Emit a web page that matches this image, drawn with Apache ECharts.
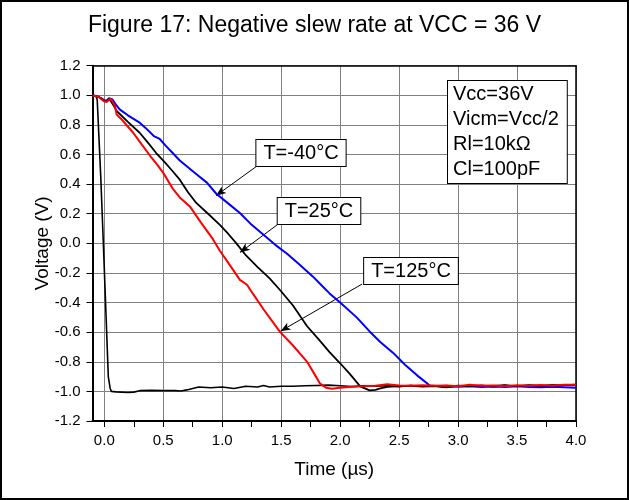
<!DOCTYPE html>
<html>
<head>
<meta charset="utf-8">
<script src="https://cdn.jsdelivr.net/npm/echarts@6/dist/echarts.min.js"></script>
<style>
html,body{margin:0;padding:0;background:#fff;}
#chart{width:629px;height:500px;}
</style>
</head>
<body>
<div id="chart"></div>
<script>
// ---- data ----
const titleText = 'Figure 17: Negative slew rate at VCC = 36 V';
const xLabelValues = [0, 0.5, 1.0, 1.5, 2.0, 2.5, 3.0, 3.5, 4.0];
const xTickValues = [0,0.25,0.5,0.75,1.0,1.25,1.5,1.75,2.0,2.25,2.5,2.75,3.0,3.25,3.5,3.75,4.0];

// T = -40 °C (blue)
const tempM40 = [[-0.10,1.000],[-0.05,0.990],[-0.02,0.978],[0.00,0.965],[0.02,0.965],[0.04,0.980],[0.055,0.984],[0.07,0.972],[0.10,0.935],[0.13,0.905],[0.20,0.865],[0.30,0.815],[0.35,0.780],[0.42,0.725],[0.47,0.705],[0.52,0.660],[0.58,0.610],[0.64,0.560],[0.73,0.500],[0.80,0.455],[0.87,0.410],[0.95,0.335],[1.05,0.270],[1.15,0.205],[1.25,0.125],[1.35,0.058],[1.45,-0.010],[1.55,-0.070],[1.65,-0.140],[1.77,-0.225],[1.85,-0.290],[1.91,-0.338],[2.00,-0.400],[2.14,-0.500],[2.25,-0.595],[2.34,-0.666],[2.45,-0.740],[2.55,-0.820],[2.65,-0.890],[2.76,-0.960],[2.85,-0.965],[2.9,-0.962],[3.0,-0.968],[3.1,-0.966],[3.2,-0.970],[3.3,-0.967],[3.4,-0.970],[3.5,-0.965],[3.6,-0.970],[3.7,-0.972],[3.8,-0.968],[3.9,-0.972],[4.0,-0.975]];

// T = 25 °C (black)
const temp25 = [[-0.10,1.000],[-0.05,0.990],[-0.02,0.975],[0.00,0.960],[0.02,0.962],[0.045,0.975],[0.06,0.970],[0.08,0.930],[0.105,0.894],[0.20,0.820],[0.30,0.747],[0.37,0.680],[0.44,0.610],[0.51,0.550],[0.58,0.487],[0.64,0.430],[0.71,0.345],[0.78,0.273],[0.88,0.200],[0.98,0.125],[1.05,0.065],[1.12,0.000],[1.20,-0.080],[1.30,-0.160],[1.40,-0.235],[1.49,-0.315],[1.60,-0.420],[1.72,-0.560],[1.82,-0.650],[1.91,-0.735],[2.00,-0.810],[2.08,-0.880],[2.17,-0.966],[2.25,-0.993],[2.30,-0.990],[2.34,-0.980],[2.40,-0.970],[2.5,-0.965],[2.6,-0.962],[2.7,-0.968],[2.8,-0.965],[2.9,-0.972],[3.0,-0.962],[3.1,-0.965],[3.2,-0.960],[3.3,-0.968],[3.4,-0.960],[3.5,-0.965],[3.6,-0.958],[3.7,-0.963],[3.8,-0.960],[3.9,-0.958],[4.0,-0.955]];

// T = 125 °C (red)
const temp125 = [[-0.10,0.998],[-0.05,0.990],[-0.036,0.984],[0.00,0.958],[0.02,0.955],[0.054,0.977],[0.07,0.965],[0.09,0.930],[0.105,0.870],[0.15,0.835],[0.245,0.747],[0.32,0.665],[0.39,0.590],[0.45,0.530],[0.50,0.476],[0.58,0.370],[0.64,0.310],[0.73,0.245],[0.82,0.140],[0.92,0.030],[0.98,-0.050],[1.05,-0.130],[1.15,-0.247],[1.21,-0.280],[1.26,-0.340],[1.35,-0.445],[1.40,-0.500],[1.49,-0.598],[1.60,-0.690],[1.72,-0.800],[1.78,-0.880],[1.83,-0.948],[1.88,-0.975],[1.93,-0.982],[2.00,-0.975],[2.1,-0.968],[2.2,-0.965],[2.3,-0.962],[2.4,-0.952],[2.5,-0.960],[2.6,-0.962],[2.7,-0.958],[2.8,-0.962],[2.9,-0.960],[3.0,-0.965],[3.1,-0.955],[3.2,-0.962],[3.3,-0.960],[3.4,-0.965],[3.5,-0.958],[3.6,-0.962],[3.7,-0.956],[3.8,-0.962],[3.9,-0.955],[4.0,-0.955]];

// fast input-like step (black, thin)
const stepTrace = [[-0.10,1.000],[-0.07,0.995],[-0.06,0.970],[-0.03,0.450],[-0.008,0.000],[0.034,-0.900],[0.05,-0.980],[0.06,-1.000],[0.10,-1.003],[0.20,-1.008],[0.25,-1.005],[0.30,-0.995],[0.40,-0.993],[0.50,-0.995],[0.60,-0.995],[0.65,-0.997],[0.70,-0.990],[0.75,-0.980],[0.80,-0.970],[0.90,-0.975],[1.00,-0.970],[1.10,-0.980],[1.20,-0.965],[1.30,-0.970],[1.35,-0.960],[1.40,-0.970],[1.50,-0.965],[1.60,-0.965],[1.70,-0.962],[1.80,-0.960],[1.90,-0.958],[2.00,-0.962],[2.10,-0.968],[2.20,-0.962],[2.3,-0.965],[2.4,-0.962],[2.5,-0.968],[2.6,-0.960],[2.7,-0.965],[2.8,-0.962],[2.9,-0.970],[3.0,-0.965],[3.1,-0.960],[3.2,-0.965],[3.3,-0.962],[3.4,-0.958],[3.5,-0.965],[3.6,-0.960],[3.7,-0.962],[3.8,-0.958],[3.9,-0.960],[4.0,-0.958]];

// annotations: label text, box centre, arrow start, arrow tip (data coords)
const annoLabels = ['T=-40°C', 'T=25°C', 'T=125°C'];
const annoCenters = [[1.670, 0.607], [1.824, 0.216], [2.597, -0.184]];
const annoStarts = [[1.286, 0.517], [1.466, 0.125], [2.186, -0.275]];
const annoTips = [[0.947, 0.322], [1.150, -0.062], [1.495, -0.593]];
const infoLines = ['Vcc=36V', 'Vicm=Vcc/2', 'Rl=10kΩ', 'Cl=100pF'];
const infoAnchor = [2.915, 0.750];

const FONT = '"Liberation Sans", Arial, Helvetica, sans-serif';
const chart = echarts.init(document.getElementById('chart'), null, {renderer: 'canvas'});

function arrow(i) {
  return {
    silent: true,
    symbol: ['none', 'arrow'],
    symbolSize: [6, 10],
    lineStyle: {color: '#000', width: 1, type: 'solid'},
    label: {show: false},
    emphasis: {disabled: true},
    animation: false,
    data: [[{coord: annoStarts[i]}, {coord: annoTips[i]}]]
  };
}
function curve(name, data, color, width, mark) {
  const s = {
    name: name, type: 'line', data: data, showSymbol: false, symbol: 'none',
    lineStyle: {color: color, width: width}, itemStyle: {color: color},
    z: 10, animation: false, silent: true
  };
  if (mark !== undefined) s.markLine = arrow(mark);
  return s;
}

const boxData = annoLabels.map((t, i) => [annoCenters[i][0], annoCenters[i][1], t, 'center', 20, '7']);
boxData.push([infoAnchor[0], infoAnchor[1], infoLines.join('\n'), 'left', 25, '5']);

const option = {
  backgroundColor: '#fff',
  animation: false,
  title: {
    text: titleText, left: 'center', top: 14, padding: 0,
    textStyle: {fontFamily: FONT, fontSize: 23, fontWeight: 'normal', color: '#000'}
  },
  graphic: [{
    type: 'rect', silent: true, z: 100,
    shape: {x: 1, y: 1, width: 627, height: 498},
    style: {fill: 'none', stroke: '#000', lineWidth: 2}
  }],
  grid: {left: 92.5, right: 53, top: 65.7, bottom: 79, containLabel: false},
  xAxis: [{
    type: 'value', min: -0.1, max: 4.0, position: 'bottom', z: 4,
    name: 'Time (µs)', nameLocation: 'middle', nameGap: 39, nameMoveOverlap: false,
    nameTextStyle: {fontFamily: FONT, fontSize: 19, color: '#000'},
    axisLine: {show: true, onZero: false, lineStyle: {color: '#000', width: 2}},
    axisTick: {show: true, inside: false, length: 6, customValues: xTickValues, lineStyle: {color: '#000', width: 1}},
    axisLabel: {customValues: xLabelValues, margin: 12, fontFamily: FONT, fontSize: 15, color: '#000',
      formatter: v => v.toFixed(1)},
    splitLine: {show: false}
  }, {
    type: 'value', min: -0.1, max: 4.0, position: 'top', z: 3,
    axisLine: {show: true, onZero: false, lineStyle: {color: '#000', width: 1.5}},
    axisTick: {show: false, customValues: xLabelValues},
    axisLabel: {show: false, customValues: xLabelValues},
    splitLine: {show: true, lineStyle: {color: '#808080', width: 1}}
  }],
  yAxis: [{
    type: 'value', min: -1.2, max: 1.2, interval: 0.2, position: 'left', z: 2,
    name: 'Voltage (V)', nameLocation: 'middle', nameGap: 40, nameMoveOverlap: false,
    nameTextStyle: {fontFamily: FONT, fontSize: 19, color: '#000'},
    axisLine: {show: true, onZero: false, lineStyle: {color: '#000', width: 2}},
    axisTick: {show: true, inside: false, length: 6, lineStyle: {color: '#000', width: 1}},
    axisLabel: {margin: 12, fontFamily: FONT, fontSize: 15, color: '#000',
      formatter: v => (Math.abs(v) < 1e-9 ? 0 : v).toFixed(1)},
    splitLine: {show: true, lineStyle: {color: '#808080', width: 1}}
  }, {
    type: 'value', min: -1.2, max: 1.2, interval: 0.2, position: 'right', z: 5,
    axisLine: {show: true, onZero: false, lineStyle: {color: '#000', width: 1.5}},
    axisTick: {show: false}, axisLabel: {show: false}, splitLine: {show: false}
  }],
  series: [
    curve('step', stepTrace, '#000', 1.6),
    curve('T=-40°C', tempM40, '#0000ff', 2, 0),
    curve('T=25°C', temp25, '#000', 1.8, 1),
    curve('T=125°C', temp125, '#ff0000', 2, 2),
    {
      name: 'boxes', type: 'custom', z: 20, silent: true, animation: false,
      clip: false,
      data: boxData,
      renderItem: function (params, api) {
        const p = api.coord([api.value(0), api.value(1)]);
        const d = boxData[params.dataIndex];
        const padL = Number(d[5]);
        return {
          type: 'text', x: Math.round(p[0]), y: Math.round(p[1]),
          style: {
            text: d[2], fill: '#000', font: '20px ' + FONT,
            lineHeight: d[4],
            align: d[3], verticalAlign: 'middle',
            backgroundColor: '#fff', borderColor: '#000', borderWidth: 1,
            padding: d[3] === 'left' ? [1, 8, 1, padL] : [3, 7, 3, 7]
          }
        };
      }
    }
  ]
};
chart.setOption(option);
</script>
</body>
</html>
